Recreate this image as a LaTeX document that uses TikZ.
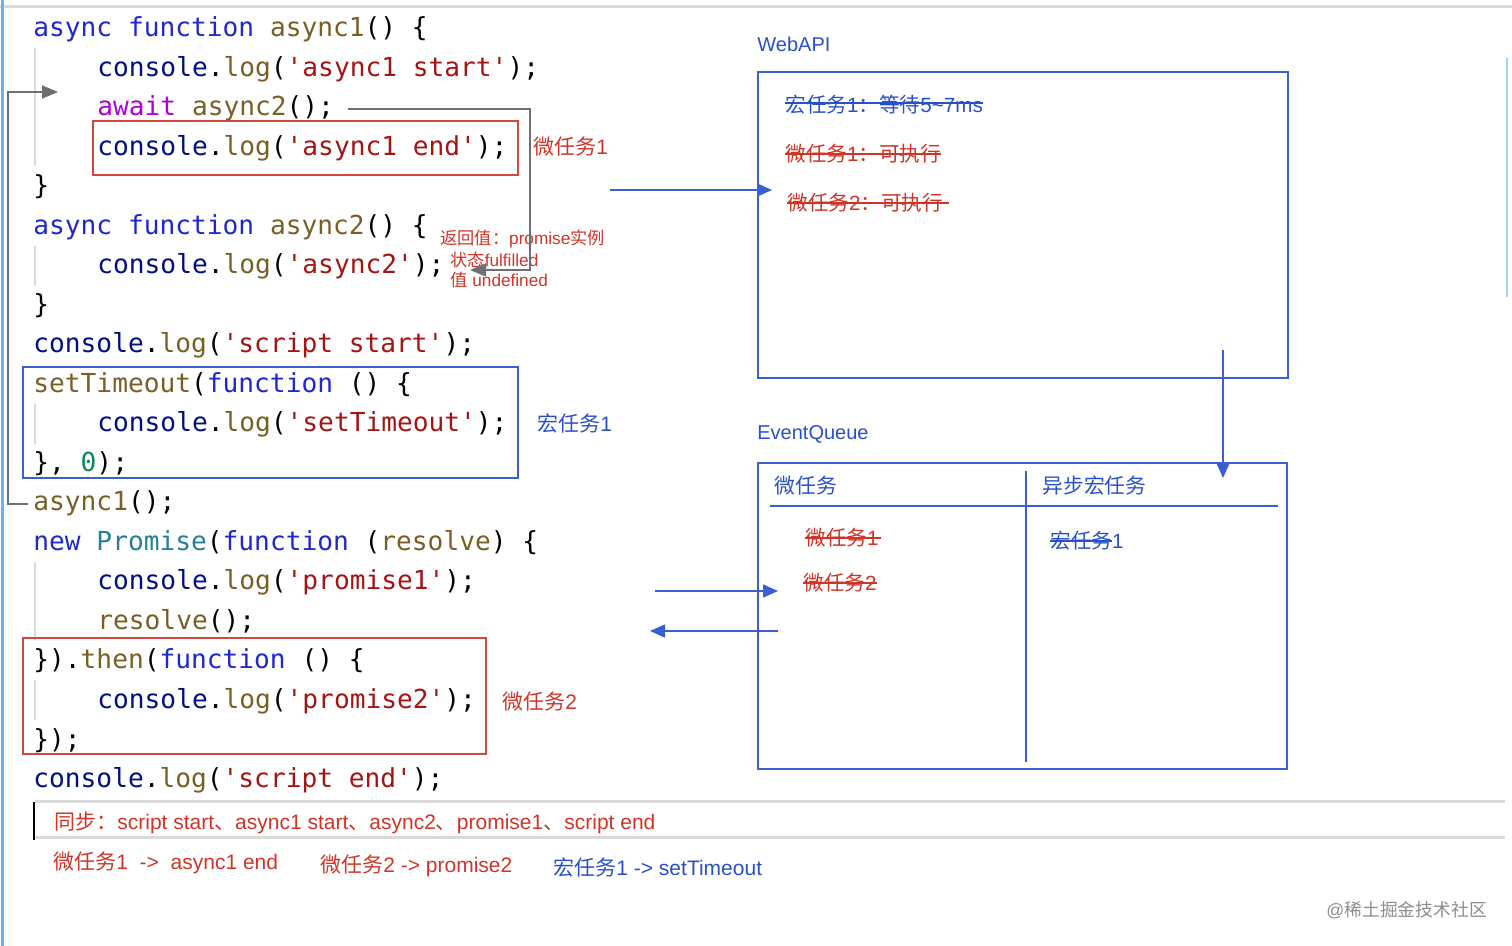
\documentclass[tikz,border=0pt]{standalone}
\usepackage{fontspec}
\setsansfont{Liberation Sans}
\setmonofont{DejaVu Sans Mono}
\newfontfamily\cjk{Noto Sans CJK SC}
\usetikzlibrary{arrows.meta}

% editor colours
\definecolor{jskw}{RGB}{30,40,205}
\definecolor{jsobj}{RGB}{0,16,128}
\definecolor{jsfn}{RGB}{121,94,38}
\definecolor{jsstr}{RGB}{163,21,21}
\definecolor{jsaw}{RGB}{175,0,219}
\definecolor{jscls}{RGB}{38,127,153}
\definecolor{jsnum}{RGB}{9,134,88}
% annotation colours
\definecolor{notered}{RGB}{208,52,38}
\definecolor{noteblue}{RGB}{40,80,200}
\definecolor{lineblue}{RGB}{58,95,208}
\definecolor{boxred}{RGB}{210,70,60}
\definecolor{arrgray}{RGB}{110,110,116}
\definecolor{guide}{RGB}{218,218,218}
\definecolor{edgeblue}{RGB}{110,176,232}

\newcommand{\zh}[1]{{\cjk #1}}
\newcommand{\jskw}[1]{\textcolor{jskw}{#1}}
\newcommand{\jsobj}[1]{\textcolor{jsobj}{#1}}
\newcommand{\jsfn}[1]{\textcolor{jsfn}{#1}}
\newcommand{\jsstr}[1]{\textcolor{jsstr}{#1}}
\newcommand{\jsaw}[1]{\textcolor{jsaw}{#1}}
\newcommand{\jscls}[1]{\textcolor{jscls}{#1}}
\newcommand{\jsnum}[1]{\textcolor{jsnum}{#1}}
\newcommand{\jslog}[1]{\jsobj{console}.\jsfn{log}(\jsstr{'#1'});}

\begin{document}
\begin{tikzpicture}[
  x=0.5pt, y=-0.5pt,
  code/.style={anchor=base west, inner sep=0pt, font=\ttfamily\fontsize{13.1}{15}\selectfont},
  note/.style={anchor=west, inner sep=0pt, font=\sffamily\fontsize{10.3}{12}\selectfont},
  smallnote/.style={note, font=\sffamily\fontsize{8.6}{10}\selectfont, text=notered},
  redbox/.style={draw=boxred, line width=0.75pt, inner sep=0pt},
  bluebox/.style={draw=lineblue, line width=0.8pt, inner sep=0pt},
  grayarr/.style={-{Triangle[length=8pt,width=6.5pt]}, draw=arrgray, line width=0.8pt},
  bluearr/.style={-{Triangle[length=7.5pt,width=6.5pt]}, draw=lineblue, fill=lineblue, line width=0.8pt},
  strike/.style={line width=0.7pt}
]
  \useasboundingbox (0,0) rectangle (1512,946);

  % screenshot edges
  \draw[guide, line width=1.5pt] (0,7) -- (1512,7);
  \draw[edgeblue, line width=1.5pt] (2,0) -- (2,946);
  \draw[edgeblue!60, line width=1pt] (1507,58) -- (1507,297);

  % indent guides
  \foreach \ya/\yb in {48/166, 246/286, 404/444, 562/640, 680/720}
    \draw[guide, line width=0.8pt] (35,\ya) -- (35,\yb);

  % code
  \node[code] (l1) at (33,37) {\jskw{async function} \jsfn{async1}() \{};
  \node[code] (l2) at (97,76.5) {\jslog{async1 start}};
  \node[code] (l3) at (97,116) {\jsaw{await} \jsfn{async2}();};
  \node[code] (l4) at (97,155.5) {\jslog{async1 end}};
  \node[code] (l5) at (33,195) {\}};
  \node[code] (l6) at (33,234.5) {\jskw{async function} \jsfn{async2}() \{};
  \node[code] (l7) at (97,274) {\jslog{async2}};
  \node[code] (l8) at (33,313.5) {\}};
  \node[code] (l9) at (33,353) {\jslog{script start}};
  \node[code] (l10) at (33,392.5) {\jsfn{setTimeout}(\jskw{function} () \{};
  \node[code] (l11) at (97,432) {\jslog{setTimeout}};
  \node[code] (l12) at (33,471.5) {\}, \jsnum{0});};
  \node[code] (l13) at (33,511) {\jsfn{async1}();};
  \node[code] (l14) at (33,550.5) {\jskw{new} \jscls{Promise}(\jskw{function} (\jsfn{resolve}) \{};
  \node[code] (l15) at (97,590) {\jslog{promise1}};
  \node[code] (l16) at (97,629.5) {\jsfn{resolve}();};
  \node[code] (l17) at (33,669) {\}).\jsfn{then}(\jskw{function} () \{};
  \node[code] (l18) at (97,708.5) {\jslog{promise2}};
  \node[code] (l19) at (33,748) {\});};
  \node[code] (l20) at (33,787.5) {\jslog{script end}};

  % task boxes round the code
  \node[redbox, minimum width=212.5pt, minimum height=27pt] (mbox1) at (305.5,148) {};
  \node[bluebox, minimum width=247.5pt, minimum height=55.5pt] (tbox1) at (270.5,422.5) {};
  \node[redbox, minimum width=231.5pt, minimum height=58pt] (mbox2) at (254.5,696) {};

  % labels beside the code
  \node[note, text=notered, font=\sffamily\fontsize{10.5}{12}\selectfont] (mlab1) at (533,147) {\zh{微任务}1};
  \node[note, text=noteblue, font=\sffamily\fontsize{10.5}{12}\selectfont] (tlab1) at (537,423) {\zh{宏任务}1};
  \node[note, text=notered, font=\sffamily\fontsize{10.5}{12}\selectfont] (mlab2) at (502,702) {\zh{微任务}2};
  \node[smallnote] (ret1) at (440,239) {\zh{返回值：}promise\zh{实例}};
  \node[smallnote] (ret2) at (450,260) {\zh{状态}fulfilled};
  \node[smallnote] (ret3) at (450,280) {\zh{值} undefined};

  % await / call arrows
  \coordinate (retbend) at (530,270);
  \coordinate (rettip) at (470,270);
  \draw[grayarr] ([xshift=7pt]l3.east) -| (retbend) -- (rettip);
  \coordinate (callbend) at (8,92);
  \coordinate (calltip) at (58,92);
  \draw[grayarr] ([xshift=-2.5pt]l13.west) -| (callbend) -- (calltip);

  % WebAPI
  \node[note, text=noteblue, font=\sffamily\fontsize{10}{12}\selectfont] (weblab) at (757,44) {WebAPI};
  \node[bluebox, minimum width=265pt, minimum height=153pt] (webapi) at (1023,225) {};
  \node[note, text=noteblue] (wmac1) at (785,105) {\zh{宏任务}1\zh{：等待}5\char"7E 7ms};
  \node[note, text=notered] (wmic1) at (785,154) {\zh{微任务}1\zh{：可执行}};
  \node[note, text=notered] (wmic2) at (787,203) {\zh{微任务}2\zh{：可执行}};
  \draw[strike, noteblue] ([yshift=1pt]wmac1.west) -- ([yshift=1pt]wmac1.east);
  \draw[strike, notered] (wmic1.west) -- (wmic1.east);
  \draw[strike, notered] (wmic2.west) -- ([xshift=3pt]wmic2.east);

  % EventQueue
  \node[note, text=noteblue, font=\sffamily\fontsize{10}{12}\selectfont] (queuelab) at (757,434) {EventQueue};
  \node[bluebox, minimum width=264.5pt, minimum height=153pt] (queue) at (1022.5,616) {};
  \draw[lineblue, line width=0.8pt] (770,506) -- (1278,506);
  \draw[lineblue, line width=0.7pt] (1026,471) -- (1026,762);
  \node[note, text=noteblue, font=\sffamily\fontsize{10.4}{12}\selectfont] (qmichead) at (774,486) {\zh{微任务}};
  \node[note, text=noteblue, font=\sffamily\fontsize{10.4}{12}\selectfont] (qmachead) at (1042,486) {\zh{异步宏任务}};
  \node[note, text=notered] (qmic1) at (805,538) {\zh{微任务}1};
  \node[note, text=notered] (qmic2) at (803,583) {\zh{微任务}2};
  \node[note, text=noteblue] (qmac1) at (1050,541) {\zh{宏任务}1};
  \draw[strike, notered] (qmic1.west) -- ([xshift=1pt]qmic1.east);
  \draw[strike, notered] (qmic2.west) -- (qmic2.east);
  \draw[strike, noteblue] (qmac1.west) -- ([xshift=-6pt]qmac1.east);

  % blue arrows
  \coordinate (toweb) at (610,190);
  \coordinate (webin) at (772,190);
  \draw[bluearr] (toweb) -- (webin);
  \coordinate (webout) at (1223,350);
  \coordinate (queuein) at (1223,478);
  \draw[bluearr] (webout) -- (queuein);
  \coordinate (toqueue) at (655,591);
  \coordinate (qin) at (778,591);
  \draw[bluearr] (toqueue) -- (qin);
  \coordinate (qout) at (778,631);
  \coordinate (fromqueue) at (650,631);
  \draw[bluearr] (qout) -- (fromqueue);

  % result block
  \draw[guide, line width=1.5pt] (35,802) -- (1505,802);
  \draw[guide, line width=1.5pt] (35,838) -- (1505,838);
  \draw[black, line width=1.2pt] (34,802) -- (34,840);
  \node[note, text=notered, font=\sffamily\fontsize{10.5}{12}\selectfont] (sync) at (54,823)
    {\zh{同步：}script start\zh{、}async1 start\zh{、}async2\zh{、}promise1\zh{、}script end};
  \node[note, text=notered, font=\sffamily\fontsize{10.5}{12}\selectfont] (res1) at (53,863) {\zh{微任务}1\ \ ->\ \ async1 end};
  \node[note, text=notered, font=\sffamily\fontsize{10.5}{12}\selectfont] (res2) at (320,866) {\zh{微任务}2 -> promise2};
  \node[note, text=noteblue, font=\sffamily\fontsize{10.5}{12}\selectfont] (res3) at (553,867) {\zh{宏任务}1 -> setTimeout};

  % watermark
  \node[note, text=black!45, font=\sffamily\fontsize{8.9}{10}\selectfont] (mark) at (1326,910) {@\zh{稀土掘金技术社区}};
\end{tikzpicture}
\end{document}
